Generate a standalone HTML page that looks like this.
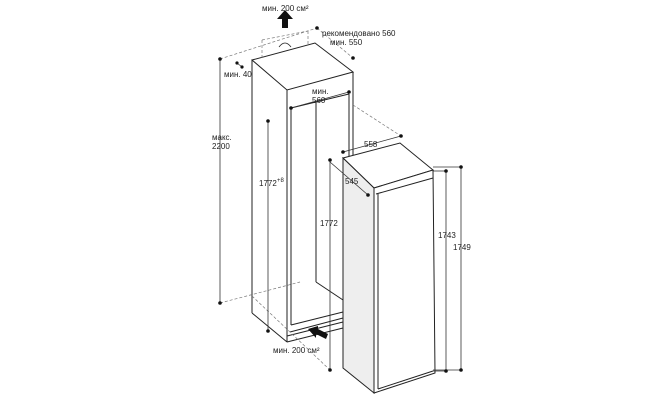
<!DOCTYPE html>
<html><head><meta charset="utf-8"><style>
html,body{margin:0;padding:0;background:#fff;}
svg{display:block;}
text{font-family:"Liberation Sans",sans-serif;font-size:8px;fill:#222;}
</style></head><body>
<svg width="650" height="400" viewBox="0 0 650 400" xmlns="http://www.w3.org/2000/svg">
<g stroke="#222" stroke-width="1" fill="none">
<polygon points="252,60 315,43 353,72 287,90" fill="#fff"/>
<line x1="252" y1="60" x2="252" y2="313"/>
<line x1="287" y1="90" x2="287" y2="342"/>
<line x1="353" y1="72" x2="353" y2="160"/>
<line x1="252" y1="313" x2="287" y2="342"/>
<line x1="291" y1="108" x2="349" y2="94"/>
<line x1="291" y1="108" x2="291" y2="325"/>
<line x1="316" y1="102" x2="316" y2="282"/>
<line x1="349" y1="94" x2="349" y2="160"/>
<line x1="291" y1="325" x2="343" y2="312"/>
<line x1="316" y1="282" x2="343" y2="300"/>
<line x1="287" y1="342" x2="343" y2="328"/>
<line x1="287" y1="336" x2="343" y2="322"/>
<line x1="290" y1="332" x2="343" y2="318"/>
<polygon points="343,158 400,143 433,170 374,188" fill="#fff"/>
<polygon points="343,158 374,188 374,393 343,368" fill="#eeeeee"/>
<polygon points="374,188 433,170 435,373 374,393" fill="#fff"/>
<line x1="376" y1="194" x2="433" y2="178"/>
<line x1="378" y1="194" x2="378" y2="389"/>
<line x1="378" y1="389" x2="433" y2="371"/>
</g>
<g stroke="#777" stroke-width="0.7" stroke-dasharray="3,2" fill="none">
<line x1="220" y1="59" x2="317" y2="28"/>
<line x1="317" y1="28" x2="353" y2="58"/>
<line x1="220" y1="303" x2="300" y2="282"/>
<line x1="252" y1="296" x2="330" y2="370"/>
<line x1="353" y1="105" x2="401" y2="136"/>
<line x1="262" y1="40" x2="262" y2="60"/>
<line x1="262" y1="40" x2="308" y2="31"/>
<line x1="308" y1="31" x2="308" y2="45"/>
</g>
<g stroke="#333" stroke-width="0.8">
<line x1="220" y1="59" x2="220" y2="303"/>
<line x1="237" y1="63" x2="242" y2="67"/>
<line x1="291" y1="108" x2="349" y2="92"/>
<line x1="268" y1="121" x2="268" y2="331"/>
<line x1="330" y1="160" x2="330" y2="370"/>
<line x1="343" y1="152" x2="401" y2="136"/>
<line x1="330" y1="162" x2="368" y2="195"/>
<line x1="446" y1="171" x2="446" y2="371"/>
<line x1="461" y1="167" x2="461" y2="370"/>
<line x1="433" y1="171" x2="446" y2="171"/>
<line x1="433" y1="167" x2="461" y2="167"/>
<line x1="433" y1="371" x2="446" y2="371"/>
<line x1="433" y1="370" x2="461" y2="370"/>
</g>
<g fill="#111">
<circle cx="220" cy="59" r="1.8"/><circle cx="220" cy="303" r="1.8"/>
<circle cx="317" cy="28" r="1.8"/><circle cx="353" cy="58" r="1.8"/>
<circle cx="237" cy="63" r="1.6"/><circle cx="242" cy="67" r="1.6"/>
<circle cx="291" cy="108" r="1.8"/><circle cx="349" cy="92" r="1.8"/>
<circle cx="268" cy="121" r="1.8"/><circle cx="268" cy="331" r="1.8"/>
<circle cx="330" cy="160" r="1.8"/><circle cx="330" cy="370" r="1.8"/>
<circle cx="343" cy="152" r="1.8"/><circle cx="401" cy="136" r="1.8"/>
<circle cx="368" cy="195" r="1.8"/>
<circle cx="446" cy="171" r="1.8"/><circle cx="446" cy="371" r="1.8"/>
<circle cx="461" cy="167" r="1.8"/><circle cx="461" cy="370" r="1.8"/>
<polygon points="285,10 277,19 282,19 282,28 288,28 288,19 293,19"/>
<polygon points="308,329 318,326 318,329 328,334 326,339 316,334 316,338"/>
</g>
<path d="M279,47 q6,-8 12,0" stroke="#222" fill="none" stroke-width="0.8"/>
<text x="262" y="11">мин. 200 см²</text>
<text x="322" y="36">рекомендовано 560</text>
<text x="330" y="45">мин. 550</text>
<text x="224" y="77">мин. 40</text>
<text x="312" y="94">мин.</text>
<text x="312" y="103">560</text>
<text x="212" y="140">макс.</text>
<text x="212" y="149">2200</text>
<text x="259" y="186">1772</text><text x="277" y="182" style="font-size:6px">+8</text>
<text x="320" y="226">1772</text>
<text x="364" y="147">558</text>
<text x="345" y="184">545</text>
<text x="438" y="238">1743</text>
<text x="453" y="250">1749</text>
<text x="273" y="353">мин. 200 см²</text>
</svg>
</body></html>
